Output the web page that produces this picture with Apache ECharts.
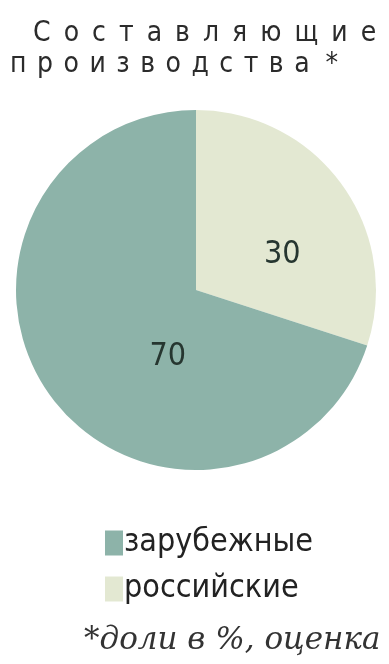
<!DOCTYPE html>
<html>
<head>
<meta charset="utf-8">
<script src="https://cdn.jsdelivr.net/npm/echarts@6/dist/echarts.min.js"></script>
<style>
  html, body { margin: 0; padding: 0; background: #fff; }
  #chart { width: 389px; height: 664px; }
</style>
</head>
<body>
<div id="chart"></div>
<script>
  // данные
  const categories = ['российские', 'зарубежные'];
  const values = [30, 70];
  const colors = ['#e3e8d2', '#8db3a9'];
  const legendOrder = ['зарубежные', 'российские'];

  const chart = echarts.init(document.getElementById('chart'));
  const font = '"DejaVu Sans Condensed", "Liberation Sans Narrow", "Roboto", sans-serif';
  // разрядка заголовка
  const spaced = (s, gap) => s.split('').join(gap);

  chart.setOption({
    animation: false,
    title: [
      {
        text: spaced('Составляющие', ' \u2009'),
        left: 28, top: 15,
        textStyle: { fontFamily: font, fontSize: 28, fontWeight: 'normal', color: '#2b2b2b' }
      },
      {
        text: spaced('производства', ' \u200a') + '  *',
        left: 5, top: 46,
        textStyle: { fontFamily: font, fontSize: 28, fontWeight: 'normal', color: '#2b2b2b' }
      },
      {
        text: '*доли в %, оценка',
        left: 79, top: 620,
        textStyle: { fontFamily: '"DejaVu Serif", serif', fontStyle: 'italic', fontSize: 31, fontWeight: 'normal', color: '#333' }
      }
    ],
    legend: {
      orient: 'vertical',
      left: 100, top: 522,
      itemWidth: 18, itemHeight: 25, itemGap: 14,
      icon: 'rect',
      data: legendOrder,
      textStyle: { fontFamily: font, fontSize: 32, color: '#222', padding: [0, 0, 0, -4] }
    },
    series: [{
      type: 'pie',
      center: [196, 290],
      radius: 180,
      startAngle: 90,
      clockwise: true,
      silent: true,
      label: {
        position: 'inner',
        formatter: '{c}',
        fontFamily: font,
        fontSize: 32,
        color: '#263630'
      },
      labelLine: { show: false },
      data: categories.map((name, i) => ({
        name,
        value: values[i],
        itemStyle: { color: colors[i] },
        label: { offset: i === 0 ? [11, 19] : [47, 12] }
      }))
    }]
  });
</script>
</body>
</html>
